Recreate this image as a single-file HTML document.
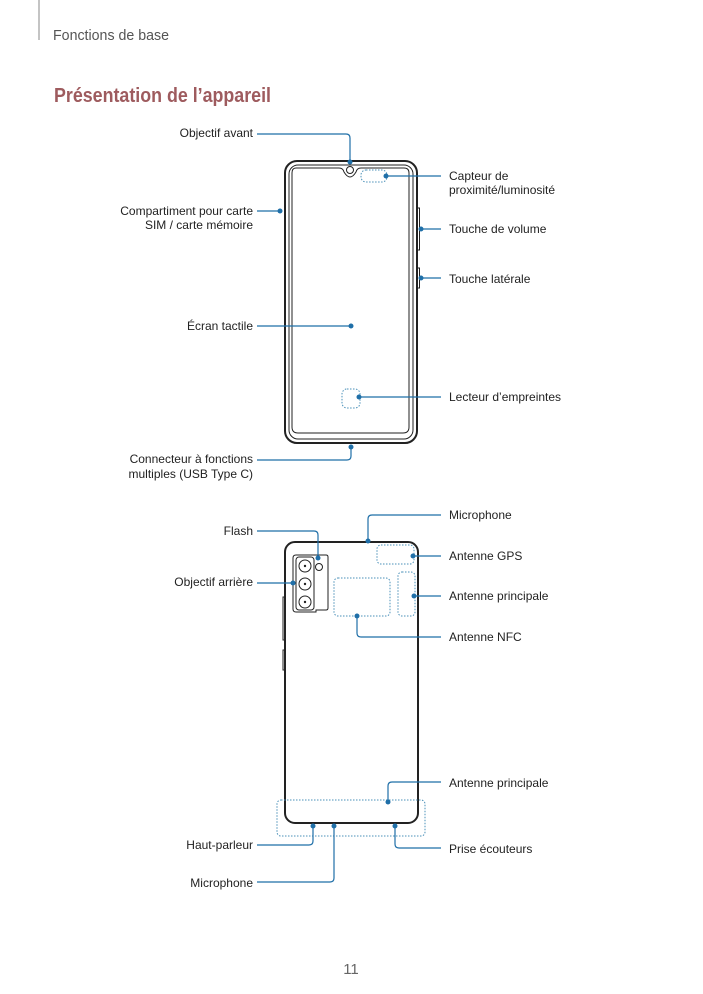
<!DOCTYPE html>
<html><head><meta charset="utf-8"><style>
html,body{margin:0;padding:0;background:#fff;}
svg{display:block;}
text{font-family:"Liberation Sans",sans-serif;}
</style></head><body>
<svg width="703" height="994" viewBox="0 0 703 994" xmlns="http://www.w3.org/2000/svg">
<line x1="39" y1="0" x2="39" y2="40" stroke="#888" stroke-width="1"/>
<text x="53" y="40" font-size="15" fill="#555" textLength="116" lengthAdjust="spacingAndGlyphs">Fonctions de base</text>
<text x="54" y="102" font-size="20" font-weight="bold" fill="#9e5b5e" textLength="217" lengthAdjust="spacingAndGlyphs">Présentation de l’appareil</text>

<g font-size="12" fill="#222">
<text x="253" y="137" text-anchor="end">Objectif avant</text>
<text x="253" y="215" text-anchor="end">Compartiment pour carte</text>
<text x="253" y="229" text-anchor="end">SIM / carte mémoire</text>
<text x="253" y="330" text-anchor="end">Écran tactile</text>
<text x="253" y="463" text-anchor="end">Connecteur à fonctions</text>
<text x="253" y="478" text-anchor="end">multiples (USB Type C)</text>
<text x="449" y="180">Capteur de</text>
<text x="449" y="194">proximité/luminosité</text>
<text x="449" y="233">Touche de volume</text>
<text x="449" y="283">Touche latérale</text>
<text x="449" y="401">Lecteur d’empreintes</text>
<text x="253" y="535" text-anchor="end">Flash</text>
<text x="253" y="586" text-anchor="end">Objectif arrière</text>
<text x="449" y="519">Microphone</text>
<text x="449" y="560">Antenne GPS</text>
<text x="449" y="600">Antenne principale</text>
<text x="449" y="641">Antenne NFC</text>
<text x="449" y="787">Antenne principale</text>
<text x="253" y="849" text-anchor="end">Haut-parleur</text>
<text x="253" y="887" text-anchor="end">Microphone</text>
<text x="449" y="853">Prise écouteurs</text>
</g>
<text x="351" y="974" font-size="15" fill="#666" text-anchor="middle">11</text>

<!-- front phone -->
<g fill="none" stroke="#222">
<rect x="285" y="161" width="132" height="282" rx="12" stroke-width="2"/>
<rect x="289" y="165" width="124" height="274" rx="9" stroke-width="1"/>
<path d="M296 168 H339 Q343 168 344 172 Q350 182 356 172 Q357 168 361 168 H404 Q409 168 409 173 V427 Q409 433 403 433 H298 Q292 433 292 427 V173 Q292 168 296 168 Z" stroke-width="1"/>
<circle cx="350" cy="170" r="3.5" stroke-width="1"/>
<rect x="417" y="208" width="2.5" height="42" stroke-width="1"/>
<rect x="417" y="268" width="2.5" height="20" stroke-width="1"/>
</g>
<g fill="none" stroke="#4a90b8" stroke-dasharray="1.5 1.5" stroke-width="1">
<rect x="361" y="170" width="26" height="12" rx="5"/>
<rect x="342" y="389" width="18" height="19" rx="5"/>
</g>
<!-- back phone -->
<g fill="none" stroke="#222">
<rect x="285" y="542" width="133" height="281" rx="10" stroke-width="2"/>
<rect x="283" y="597" width="2.5" height="43" stroke-width="1"/>
<rect x="283" y="650" width="2.5" height="20" stroke-width="1"/>
<path d="M296 555 H326 Q328 555 328 557 V608 Q328 610 326 610 H316 V612 H296 Q293 612 293 609 V558 Q293 555 296 555 Z" stroke-width="1"/>
<rect x="296" y="557" width="18" height="53" rx="3" stroke-width="1"/>
<circle cx="305" cy="566" r="6" stroke-width="1"/>
<circle cx="305" cy="584" r="6" stroke-width="1"/>
<circle cx="305" cy="602" r="6" stroke-width="1"/>
<circle cx="319" cy="567" r="3.5" stroke-width="1"/>
</g>
<g fill="#222"><circle cx="305" cy="566" r="1.2"/><circle cx="305" cy="584" r="1.2"/><circle cx="305" cy="602" r="1.2"/></g>
<g fill="none" stroke="#4a90b8" stroke-dasharray="1.5 1.5" stroke-width="1">
<rect x="377" y="545" width="37" height="19" rx="4"/>
<rect x="334" y="578" width="56" height="38" rx="4"/>
<rect x="398" y="572" width="17" height="44" rx="4"/>
<rect x="277" y="800" width="148" height="36" rx="4"/>
</g>

<!-- connectors -->
<g fill="none" stroke="#1f6fa8" stroke-width="1.2">
<path d="M257 134 H346 Q350 134 350 138 V162"/>
<path d="M386 176 H441"/>
<path d="M257 211 H280"/>
<path d="M421 229 H441"/>
<path d="M421 278 H441"/>
<path d="M257 326 H351"/>
<path d="M359 397 H441"/>
<path d="M257 460 H347 Q351 460 351 456 V447"/>
<path d="M257 531 H314 Q318 531 318 535 V557"/>
<path d="M257 583 H293"/>
<path d="M441 515 H372 Q368 515 368 519 V541"/>
<path d="M413 556 H441"/>
<path d="M414 596 H441"/>
<path d="M357 616 V633 Q357 637 361 637 H441"/>
<path d="M441 782 H392 Q388 782 388 786 V802"/>
<path d="M313 826 V841 Q313 845 309 845 H257"/>
<path d="M334 826 V878 Q334 882 330 882 H257"/>
<path d="M395 826 V844 Q395 848 399 848 H441"/>
</g>
<g fill="#1f6fa8">
<circle cx="350" cy="162" r="2.5"/><circle cx="386" cy="176" r="2.5"/><circle cx="280" cy="211" r="2.5"/>
<circle cx="421" cy="229" r="2.5"/><circle cx="421" cy="278" r="2.5"/><circle cx="351" cy="326" r="2.5"/>
<circle cx="359" cy="397" r="2.5"/><circle cx="351" cy="447" r="2.5"/>
<circle cx="318" cy="558" r="2.5"/><circle cx="293" cy="583" r="2.5"/><circle cx="368" cy="541" r="2.5"/>
<circle cx="413" cy="556" r="2.5"/><circle cx="414" cy="596" r="2.5"/><circle cx="357" cy="616" r="2.5"/>
<circle cx="388" cy="802" r="2.5"/><circle cx="313" cy="826" r="2.5"/><circle cx="334" cy="826" r="2.5"/><circle cx="395" cy="826" r="2.5"/>
</g>
</svg>
</body></html>
